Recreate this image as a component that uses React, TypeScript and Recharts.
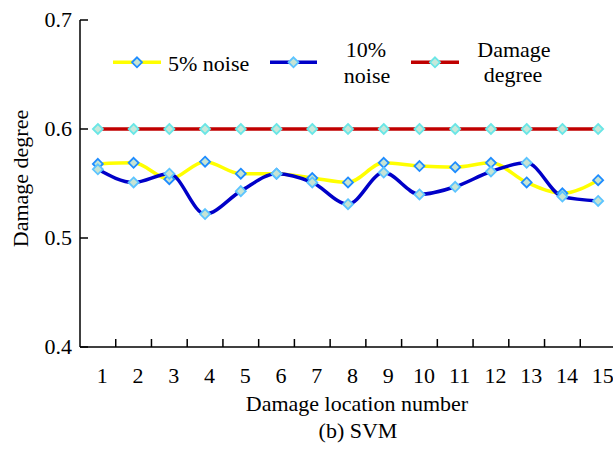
import React from 'react';
import { LineChart, Line, XAxis, YAxis, Label } from 'recharts';

// damage locations along the beam
const locations = ['1', '2', '3', '4', '5', '6', '7', '8', '9', '10', '11', '12', '13', '14', '15'];

// identified damage degree, SVM
const noise5 = [0.568, 0.569, 0.554, 0.570, 0.559, 0.559, 0.555, 0.551, 0.569, 0.566, 0.565, 0.569, 0.551, 0.541, 0.553];
const noise10 = [0.563, 0.551, 0.559, 0.522, 0.543, 0.559, 0.551, 0.531, 0.560, 0.540, 0.547, 0.561, 0.569, 0.538, 0.534];
const damage = [0.6, 0.6, 0.6, 0.6, 0.6, 0.6, 0.6, 0.6, 0.6, 0.6, 0.6, 0.6, 0.6, 0.6, 0.6];

const yTicks = [0.4, 0.5, 0.6, 0.7];

const data = locations.map((loc, i) => ({ loc, n5: noise5[i], n10: noise10[i], dmg: damage[i] }));

const FONT = 'Liberation Serif, Tinos, Times New Roman, serif';
const FS = 22;
const txt = { fontFamily: FONT, fontSize: FS };

const series = [
  { key: 'n5', color: '#ffff00', markStroke: '#1e8cff', markFill: '#c6e4d4' },
  { key: 'n10', color: '#0000c8', markStroke: '#5cc4ff', markFill: '#c6e4d4' },
  { key: 'dmg', color: '#c00000', markStroke: '#6ae6e6', markFill: '#c6e8da' },
];

const legendItems = [
  { x1: 113, x2: 161, lines: [{ text: '5% noise', x: 168, y: 70.5, anchor: 'start' }] },
  { x1: 270, x2: 317, lines: [{ text: '10%', x: 366, y: 56.5, anchor: 'middle' }, { text: 'noise', x: 367, y: 83, anchor: 'middle' }] },
  { x1: 411, x2: 459, lines: [{ text: 'Damage', x: 514, y: 56.5, anchor: 'middle' }, { text: 'degree', x: 513, y: 82, anchor: 'middle' }] },
];

const diamond = (cx: number, cy: number, r: number) =>
  `M${cx},${cy - r}L${cx + r},${cy}L${cx},${cy + r}L${cx - r},${cy}Z`;

const XTick = ({ x, y, payload, index }: any) => {
  const half = payload && payload.offset ? payload.offset : 17.86;
  return (
    <g>
      <text x={x + 4.5} y={y + 36} textAnchor="middle" style={txt} fill="#000">
        {payload.value}
      </text>
      {index < locations.length - 1 && (
        <line x1={x + half} x2={x + half} y1={y} y2={y - 8} stroke="#000" strokeWidth={1.5} />
      )}
    </g>
  );
};

const YTick = ({ x, y, payload }: any) => (
  <g>
    <text x={x - 8} y={y} dy="0.34em" textAnchor="end" style={txt} fill="#000">
      {Number(payload.value).toFixed(1)}
    </text>
    <line x1={x} x2={x + 8} y1={y} y2={y} stroke="#000" strokeWidth={1.5} />
  </g>
);

const LegendOverlay = () => (
  <svg width={613} height={100} style={{ position: 'absolute', top: 0, left: 0, pointerEvents: 'none' }}>
    {legendItems.map((it, i) => {
      const s = series[i];
      const cx = (it.x1 + it.x2) / 2;
      return (
        <g key={s.key}>
          <line x1={it.x1} x2={it.x2} y1={62.3} y2={62.3} stroke={s.color} strokeWidth={3.5} />
          <path d={diamond(cx, 62.3, 5)} fill={s.markFill} stroke={s.markStroke} strokeWidth={1.8} />
          {it.lines.map((l) => (
            <text key={l.text} x={l.x} y={l.y} textAnchor={l.anchor as any} style={txt} fill="#000">
              {l.text}
            </text>
          ))}
        </g>
      );
    })}
  </svg>
);

export default function App() {
  return (
    <div style={{ position: 'absolute', top: 0, left: 0, width: 613, height: 455, overflow: 'hidden', background: '#fff', fontFamily: FONT }}>
      <LineChart width={616} height={455} data={data} margin={{ top: 20, right: 0, bottom: 78, left: 20 }}>
        <XAxis
          dataKey="loc"
          scale="band"
          height={30}
          tickSize={0}
          tickMargin={0}
          tickLine={false}
          axisLine={{ stroke: '#000', strokeWidth: 1.5 }}
          tick={<XTick />}
          interval={0}
        >
          <Label
            content={({ viewBox }: any) => (
              <g>
                <text x={viewBox.x + viewBox.width / 2 + 9} y={viewBox.y + 63.5} textAnchor="middle" style={txt} fill="#000">
                  Damage location number
                </text>
                <text x={viewBox.x + viewBox.width / 2 + 10} y={viewBox.y + 91} textAnchor="middle" style={txt} fill="#000">
                  (b) SVM
                </text>
              </g>
            )}
          />
        </XAxis>
        <YAxis
          type="number"
          domain={[0.4, 0.7]}
          ticks={yTicks}
          width={60}
          tickSize={0}
          tickMargin={0}
          tickLine={false}
          axisLine={{ stroke: '#000', strokeWidth: 1.5 }}
          tick={<YTick />}
        >
          <Label
            content={({ viewBox }: any) => {
              const cx = 28;
              const cy = viewBox.y + viewBox.height / 2 - 5;
              return (
                <text x={cx} y={cy} transform={`rotate(-90, ${cx}, ${cy})`} textAnchor="middle" style={txt} fill="#000">
                  Damage degree
                </text>
              );
            }}
          />
        </YAxis>
        {series.map((s) => (
          <Line
            key={s.key}
            type="monotone"
            dataKey={s.key}
            stroke={s.color}
            strokeWidth={3.5}
            isAnimationActive={false}
            activeDot={false}
            dot={(p: any) => (
              <path key={`${s.key}-${p.index}`} d={diamond(p.cx, p.cy, 5)} fill={s.markFill} stroke={s.markStroke} strokeWidth={1.8} />
            )}
          />
        ))}
      </LineChart>
      <LegendOverlay />
    </div>
  );
}
